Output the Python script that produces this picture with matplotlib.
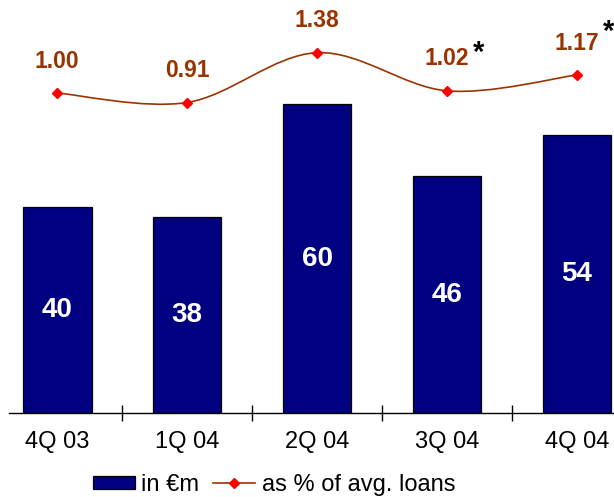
import numpy as np
import matplotlib
matplotlib.use("Agg")
import matplotlib.pyplot as plt
from matplotlib.path import Path
from matplotlib.patches import PathPatch
from matplotlib.lines import Line2D

plt.rcParams['font.family'] = ['Liberation Sans', 'DejaVu Sans']

quarters = ["4Q 03", "1Q 04", "2Q 04", "3Q 04", "4Q 04"]
amount_eur_m = [40, 38, 60, 46, 54]
pct_avg_loans = [1.00, 0.91, 1.38, 1.02, 1.17]
pct_labels = ["1.00", "0.91", "1.38", "1.02", "1.17"]
footnote_marks = ["", "", "", "*", "*"]

navy = "#000080"
brown = "#993300"
red = "#ff0000"

fig = plt.figure(figsize=(6.14, 4.97), dpi=100)
ax = fig.add_axes([9 / 614, 84 / 497, 605 / 614, 413 / 497])
x = np.arange(len(quarters))

bars = ax.bar(x, amount_eur_m, width=0.53, color=navy, edgecolor="black",
              linewidth=0.9, label="in €m", zorder=2)
for xi, v in zip(x, amount_eur_m):
    ax.text(xi, v / 2, str(v), ha="center", va="center", color="white",
            fontsize=20, fontweight="bold", zorder=3)

ax.set_xlim(-0.37, 4.285)
ax.set_ylim(0, 80.2)
for side in ["left", "right", "top"]:
    ax.spines[side].set_visible(False)
ax.spines["bottom"].set_linewidth(1.0)
ax.set_yticks([])
ax.set_xticks(x)
ax.set_xticklabels(quarters, fontsize=17)
ax.set_xticks(x[:-1] + 0.5, minor=True)
ax.tick_params(axis="x", which="major", length=0, pad=13)
ax.tick_params(axis="x", which="minor", direction="inout", length=11.5, width=1.0)

# line on its own scale
ax2 = ax.twinx()
ax2.set_ylim(-2.019, 1.877)
ax2.set_yticks([])
for s in ax2.spines.values():
    s.set_visible(False)

# smoothed line (Bezier through the points, drawn in pixel space)
fig.canvas.draw()
pts = ax2.transData.transform(np.column_stack([x, pct_avg_loans]))
n = len(pts)
verts = [pts[0]]
codes = [Path.MOVETO]
for i in range(n - 1):
    p0 = pts[i - 1] if i > 0 else pts[i]
    p1 = pts[i]
    p2 = pts[i + 1]
    p3 = pts[i + 2] if i + 2 < n else pts[i + 1]
    c1 = p1 + (p2 - p0) / 6
    c2 = p2 - (p3 - p1) / 6
    verts += [c1, c2, p2]
    codes += [Path.CURVE4] * 3
verts = ax2.transData.inverted().transform(np.array(verts))
ax2.add_patch(PathPatch(Path(verts, codes), facecolor="none", edgecolor=brown,
                        linewidth=1.2, zorder=3))
ax2.plot(x, pct_avg_loans, linestyle="none", marker="D", markersize=5,
         color=red, zorder=4)

# asterisk offsets (points) differ a little per label
mark_dy = [0, 0, 0, 27, 31]
for xi, v, lab, mark, dy in zip(x, pct_avg_loans, pct_labels, footnote_marks, mark_dy):
    ax2.annotate(lab, (xi, v), xytext=(0, 23), textcoords="offset points",
                 ha="center", va="center", color=brown, fontsize=16.5,
                 fontweight="bold", annotation_clip=False)
    if mark:
        ax2.annotate(mark, (xi, v), xytext=(23, dy), textcoords="offset points",
                     ha="center", va="center", color="black", fontsize=21,
                     fontweight="bold", annotation_clip=False)

line_handle = Line2D([], [], color=brown, linewidth=1.2, marker="D",
                     markersize=5, markerfacecolor=red, markeredgecolor=red)
fig.legend([bars, line_handle], ["in €m", "as % of avg. loans"],
           loc="center", bbox_to_anchor=(274 / 614, 12 / 497), ncol=2,
           frameon=False, fontsize=17, handlelength=1.78, handleheight=0.5,
           handletextpad=0.28, columnspacing=0.6, borderpad=0, borderaxespad=0)

fig.savefig("out.png", dpi=100)
